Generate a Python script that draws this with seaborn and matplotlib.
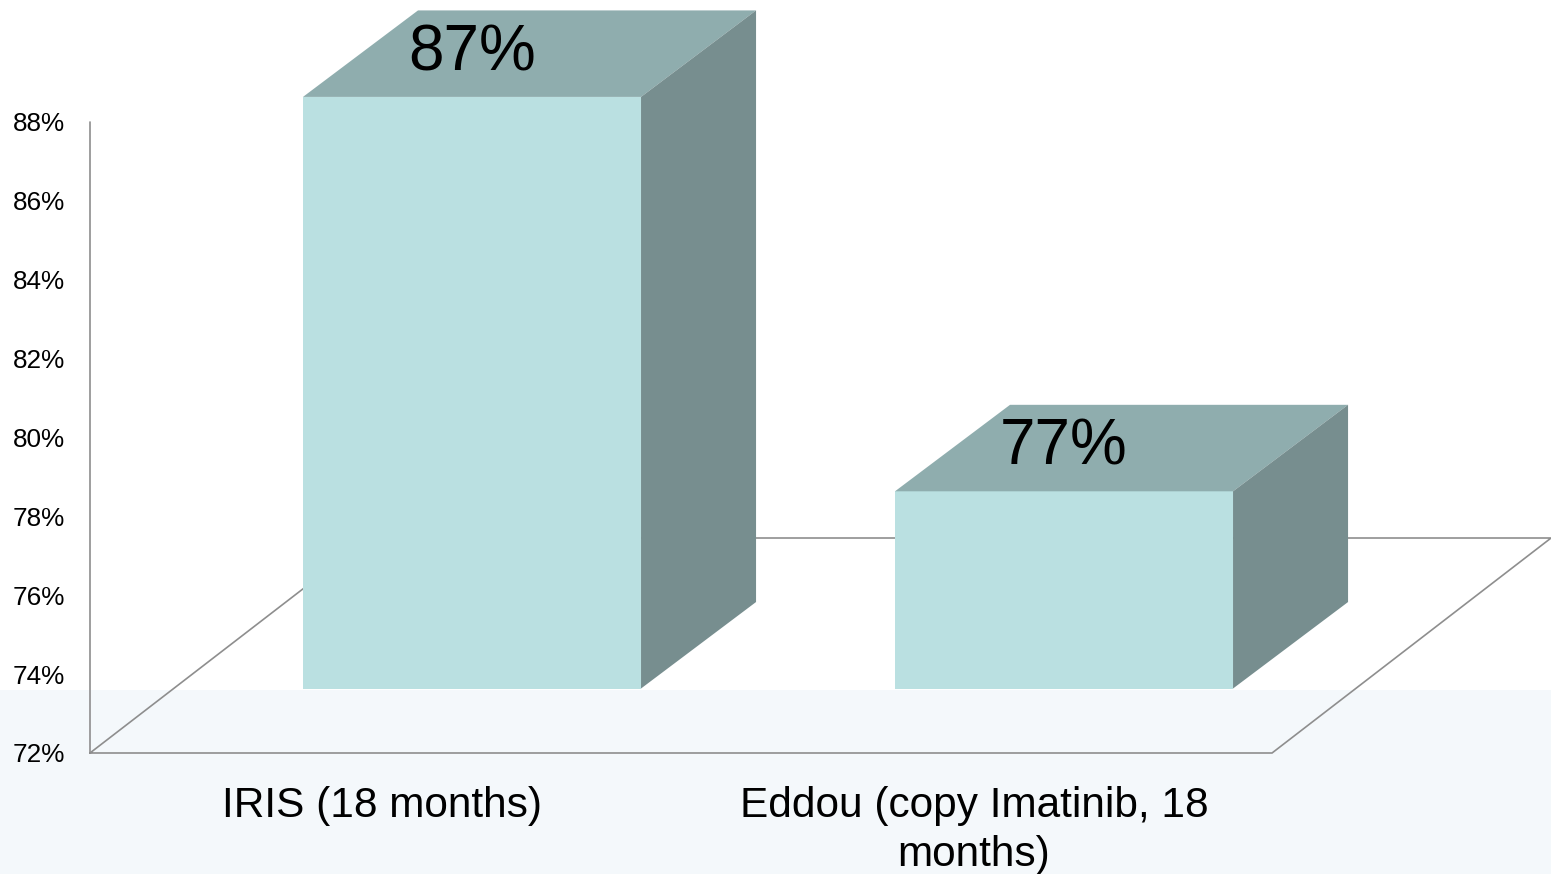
import matplotlib
matplotlib.use("Agg")
import matplotlib.pyplot as plt
from matplotlib.patches import Polygon
import seaborn as sns
import pandas as pd

# Chart data
studies = ["IRIS (18 months)", "Eddou (copy Imatinib, 18\nmonths)"]
response = [87, 77]
tick_values = [72, 74, 76, 78, 80, 82, 84, 86, 88]
tick_labels = ["72%", "74%", "76%", "78%", "80%", "82%", "84%", "86%", "88%"]
value_labels = ["87%", "77%"]

sns.set_style("white")
plt.rcParams["font.family"] = ["Liberation Sans", "DejaVu Sans"]

FRONT = "#BAE0E1"
TOP = "#8FADAE"
SIDE = "#778E8F"
LINE = "#8E8E8E"
BAND = "#F4F8FB"

base = 72.0
depth_x, depth_y = 0.4713, 5.451          # floor depth vector in data units
off_x, off_y = 0.1414, 1.635              # front faces sit this far into the floor
bar_dx, bar_dy = 0.1943, 2.193            # depth of each bar
bar_w = 0.571
floor_x0, floor_x1 = -0.6453, 1.3514

fig = plt.figure(figsize=(15.51, 8.74), dpi=100)
fig.patch.set_facecolor("white")
ax = fig.add_axes([0, 0, 1, 1])

# light band across the lower part of the slide
ax.axhspan(60, 73.6, color=BAND, zorder=0, lw=0)

# floor of the 3D plot
fx0b, fx1b = floor_x0 + depth_x, floor_x1 + depth_x
ax.plot([floor_x0, floor_x1, fx1b, fx0b, floor_x0],
        [base, base, base + depth_y, base + depth_y, base],
        color=LINE, lw=1.2, zorder=1, solid_joinstyle="miter")
# value axis line
ax.plot([floor_x0, floor_x0], [base, tick_values[-1]], color=LINE, lw=1.2, zorder=1)

# front faces of the bars
df = pd.DataFrame({"study": studies, "height": [v - base for v in response]})
sns.barplot(data=df, x="study", y="height", bottom=base + off_y, width=bar_w,
            color=FRONT, saturation=1, errorbar=None, linewidth=0,
            edgecolor="none", ax=ax, zorder=3)

# top and side faces
for i, v in enumerate(response):
    xl, xr = i - bar_w / 2, i + bar_w / 2
    top = v + off_y
    bot = base + off_y
    ax.add_patch(Polygon([(xl, top), (xr, top), (xr + bar_dx, top + bar_dy),
                          (xl + bar_dx, top + bar_dy)],
                         closed=True, facecolor=TOP, edgecolor="none", zorder=3))
    ax.add_patch(Polygon([(xr, bot), (xr, top), (xr + bar_dx, top + bar_dy),
                          (xr + bar_dx, bot + bar_dy)],
                         closed=True, facecolor=SIDE, edgecolor="none", zorder=3))
    ax.text(i, top + 1.10, value_labels[i], ha="center", va="center",
            fontsize=46, color="black", zorder=5)

# tick labels of the value axis
for t, lab in zip(tick_values, tick_labels):
    ax.text(-0.6875, t, lab, ha="right", va="center_baseline", fontsize=18.8,
            color="black")

# category labels
for i, s in enumerate(studies):
    ax.text(i - 0.152, 71.17, s, ha="center", va="top", fontsize=30.5,
            color="black", linespacing=1.3)

ax.set_xlim(-0.7973, 1.8226)
ax.set_ylim(68.932, 91.092)
ax.set_axis_off()

fig.savefig("out.png", dpi=100, facecolor="white")
